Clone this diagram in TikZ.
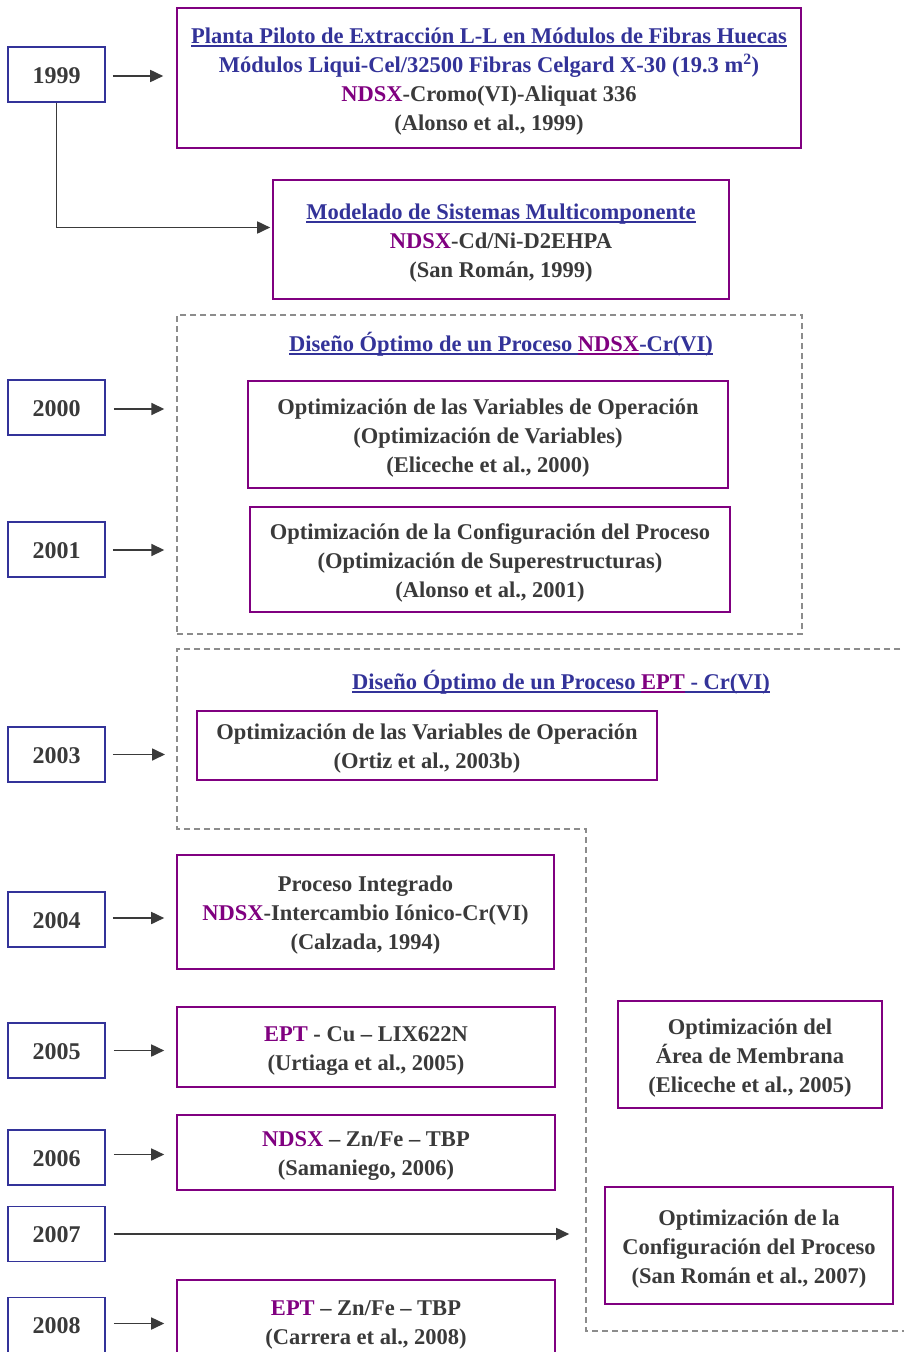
\documentclass[tikz,border=0pt]{standalone}
\usepackage{fontspec}
\setmainfont{Liberation Serif}
\usetikzlibrary{arrows.meta}
\definecolor{tgray}{HTML}{3A3A3A}
\definecolor{tblue}{HTML}{333399}
\definecolor{tpurp}{HTML}{800080}
\definecolor{dgray}{HTML}{8C8C8C}
\newcommand{\np}[1]{\textcolor{tpurp}{#1}}
\newcommand{\nb}[1]{\textcolor{tblue}{#1}}
\newcommand{\ulx}[1]{{\setbox0\hbox{#1}\rlap{\rule[-3.5pt]{\wd0}{1.3pt}}\box0}}
\newcommand{\tp}{\rule{0pt}{22pt}}
\newcommand{\bt}{\rule[-5pt]{0pt}{5pt}}
\begin{document}
\begin{tikzpicture}[x=1pt,y=-1pt,
  txt/.style={font=\fontsize{22.5}{29}\selectfont\bfseries, text=tgray, align=center},
  yearbox/.style={txt, font=\fontsize{24}{29}\selectfont\bfseries, draw=tblue, line width=1.6pt, minimum width=97pt, minimum height=55pt, inner sep=0pt},
  pbox/.style={txt, draw=tpurp, line width=1.6pt, inner sep=0pt},
  arr/.style={draw=tgray, line width=1.7pt, -{Triangle[length=13pt,width=12pt]}},
  dashline/.style={draw=dgray, line width=1.4pt, dash pattern=on 6pt off 4pt},
  ttl/.style={txt, inner sep=0pt}
]
\useasboundingbox (0,0) rectangle (904,1352);
\fill[white] (0,0) rectangle (904,1352);

% year boxes
\node[yearbox] (y1999) at (56.5,74.5) {\tp 1999\bt};
\node[yearbox] (y2000) at (56.5,407.5) {\tp 2000\bt};
\node[yearbox] (y2001) at (56.5,549.5) {\tp 2001\bt};
\node[yearbox] (y2003) at (56.5,754.5) {\tp 2003\bt};
\node[yearbox] (y2004) at (56.5,919.5) {\tp 2004\bt};
\node[yearbox] (y2005) at (56.5,1050.5) {\tp 2005\bt};
\node[yearbox] (y2006) at (56.5,1157.5) {\tp 2006\bt};
\node[yearbox] (y2007) at (56.5,1234) {\tp 2007\bt};
\node[yearbox] (y2008) at (56.5,1325) {\tp 2008\bt};

% dashed regions
\node[dashline, minimum width=625pt, minimum height=319pt, inner sep=0pt] (d1) at (489.5,474.5) {};
\coordinate (d2a) at (910,649);
\coordinate (d2b) at (177,649);
\coordinate (d2c) at (177,829);
\coordinate (d2d) at (586,829);
\coordinate (d2e) at (586,1331);
\coordinate (d2f) at (910,1331);
\draw[dashline] (d2a) -- (d2b) -- (d2c) -- (d2d) -- (d2e) -- (d2f);

% boxes
\node[pbox, minimum width=624pt, minimum height=140pt] (b1) at (489,78) {%
  \tp\nb{\ulx{Planta Piloto de Extracción L-L en Módulos de Fibras Huecas}}\\
  \nb{Módulos Liqui-Cel/32500 Fibras Celgard X-30 (19.3 m\textsuperscript{2})}\\
  \np{NDSX}-Cromo(VI)-Aliquat 336\\
  (Alonso et al., 1999)\bt};
\node[pbox, minimum width=456pt, minimum height=119pt] (b2) at (501,239.5) {%
  \tp\nb{\ulx{Modelado de Sistemas Multicomponente}}\\
  \np{NDSX}-Cd/Ni-D2EHPA\\
  (San Román, 1999)\bt};

\node[ttl] (t1) at (501,344) {\nb{\ulx{Diseño Óptimo de un Proceso }}\np{\ulx{NDSX}}\nb{\ulx{-Cr(VI)}}};
\node[pbox, minimum width=480pt, minimum height=107pt] (b2000) at (488,434.5) {%
  \tp Optimización de las Variables de Operación\\
  (Optimización de Variables)\\
  (Eliceche et al., 2000)\bt};
\node[pbox, minimum width=480pt, minimum height=105pt] (b2001) at (490,559.5) {%
  \tp Optimización de la Configuración del Proceso\\
  (Optimización de Superestructuras)\\
  (Alonso et al., 2001)\bt};

\node[ttl] (t2) at (561,682) {\nb{\ulx{Diseño Óptimo de un Proceso }}\np{\ulx{EPT}}\nb{\ulx{ - Cr(VI)}}};
\node[pbox, minimum width=460pt, minimum height=69pt] (b2003) at (427,745.5) {%
  \tp Optimización de las Variables de Operación\\
  (Ortiz et al., 2003b)\bt};

\node[pbox, minimum width=377pt, minimum height=114pt] (b2004) at (365.5,912) {%
  \tp Proceso Integrado\\
  \np{NDSX}-Intercambio Iónico-Cr(VI)\\
  (Calzada, 1994)\bt};
\node[pbox, minimum width=378pt, minimum height=80pt] (b2005) at (366,1047) {%
  \tp\np{EPT} - Cu – LIX622N\\
  (Urtiaga et al., 2005)\bt};
\node[pbox, minimum width=378pt, minimum height=75pt] (b2006) at (366,1152.5) {%
  \tp\np{NDSX} – Zn/Fe – TBP\\
  (Samaniego, 2006)\bt};
\node[pbox, minimum width=378pt, minimum height=82pt] (b2008) at (366,1321) {%
  \tp\np{EPT} – Zn/Fe – TBP\\
  (Carrera et al., 2008)\bt};

\node[pbox, minimum width=264pt, minimum height=107pt] (barea) at (750,1054.5) {%
  \tp Optimización del\\
  Área de Membrana\\
  (Eliceche et al., 2005)\bt};
\node[pbox, minimum width=288pt, minimum height=117pt] (b2007) at (749,1245.5) {%
  \tp Optimización de la\\
  Configuración del Proceso\\
  (San Román et al., 2007)\bt};

% arrows
\draw[arr, shorten <=7pt, shorten >=13pt] ([yshift=-1.5pt]y1999.east) -- ([yshift=-1.5pt]y1999.east -| b1.west);
\draw[arr, shorten >=2pt] (y1999.south) |- ([yshift=12pt]b2.west);
\draw[arr, shorten <=8pt, shorten >=12pt] ([yshift=-1.5pt]y2000.east) -- ([yshift=-1.5pt]y2000.east -| d1.west);
\draw[arr, shorten <=7pt, shorten >=12pt] ([yshift=-0.5pt]y2001.east) -- ([yshift=-0.5pt]y2001.east -| d1.west);
\draw[arr, shorten <=7pt, shorten >=12pt] (y2003.east) -- (y2003.east -| d2c);
\draw[arr, shorten <=7pt, shorten >=12pt] ([yshift=1.5pt]y2004.east) -- ([yshift=1.5pt]y2004.east -| b2004.west);
\draw[arr, shorten <=8pt, shorten >=12pt] (y2005.east) -- (y2005.east -| b2005.west);
\draw[arr, shorten <=8pt, shorten >=12pt] ([yshift=3pt]y2006.east) -- ([yshift=3pt]y2006.east -| b2006.west);
\draw[arr, shorten <=8pt, shorten >=35pt] (y2007.east) -- (y2007.east -| b2007.west);
\draw[arr, shorten <=8pt, shorten >=12pt] ([yshift=1.5pt]y2008.east) -- ([yshift=1.5pt]y2008.east -| b2008.west);
\end{tikzpicture}
\end{document}
